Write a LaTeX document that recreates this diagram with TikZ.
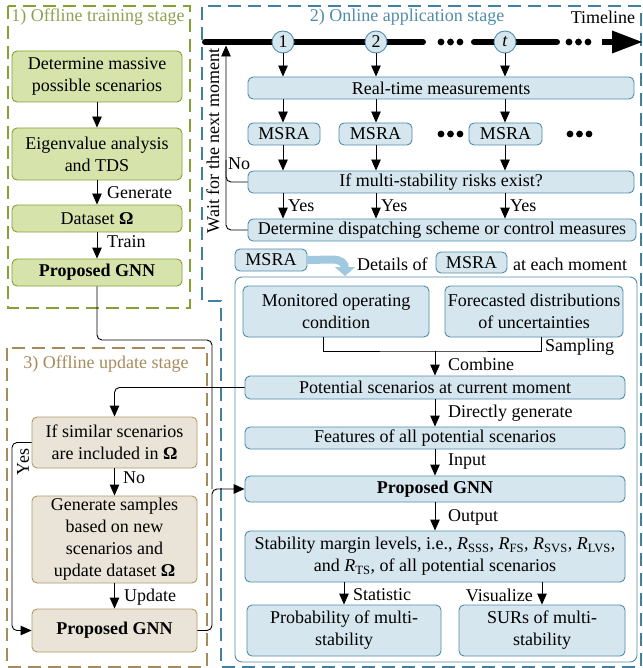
\documentclass[tikz,border=0pt]{standalone}
\usepackage{fontspec}
\setmainfont{Liberation Serif}
\usetikzlibrary{arrows.meta}
\definecolor{gline}{RGB}{134,160,52}
\definecolor{gfill}{RGB}{214,227,170}
\definecolor{gtext}{RGB}{140,162,80}
\definecolor{bline}{RGB}{64,128,160}
\definecolor{bfill}{RGB}{214,230,238}
\definecolor{bedge}{RGB}{80,140,170}
\definecolor{btext}{RGB}{80,140,170}
\definecolor{nline}{RGB}{166,138,92}
\definecolor{nedge}{RGB}{180,152,104}
\definecolor{nfill}{RGB}{234,228,216}
\definecolor{ltblue}{RGB}{160,200,222}
\newcommand{\myfs}{\fontsize{18}{22}\selectfont}
\newcommand{\bx}[7]{\node[#1, minimum width={#5-#3}, minimum height={#6-#4}] (#2) at ({(#3+#5)/2},{(#4+#6)/2}) {#7};}
\tikzset{
  base/.style={rounded corners=5pt, line width=0.9pt, align=center, inner sep=0pt, font=\myfs},
  gbox/.style={base, draw=gline, fill=gfill},
  bbox/.style={base, draw=bedge, fill=bfill},
  nbox/.style={base, draw=nedge, fill=nfill},
  inbox/.style={base, draw=bedge, fill=white, rounded corners=7pt},
  arr/.style={-{Triangle[length=11pt,width=9.5pt]}, line width=0.9pt},
  conn/.style={line width=0.9pt},
  lbl/.style={font=\myfs, inner sep=0pt, anchor=west},
  lblr/.style={font=\myfs, inner sep=0pt, anchor=east},
  lblc/.style={font=\myfs, inner sep=0pt},
  stage/.style={line width=2.3pt, dash pattern=on 13pt off 7pt},
  tcirc/.style={circle, draw=bedge, fill=bfill, minimum size=22pt, inner sep=0pt, line width=0.9pt, font=\myfs},
  tline/.style={line width=6pt, line cap=round}
}
\begin{document}
\begin{tikzpicture}[x=1pt,y=-1pt]
\useasboundingbox (0,0) rectangle (642,668);

% stage frames
\draw[stage, gline] (8,6) rectangle (190,308);
\draw[stage, bline] (641,6) -- (202,6) -- (202,301) -- (221,301) -- (221,667) -- (641,667) -- cycle;
\draw[stage, nline] (7,348) rectangle (207,667);

\node[lblc, text=gtext] (t1) at (98,17) {1) Offline training stage};
\node[lblc, text=btext] (t2) at (407,17) {2) Online application stage};
\node[lblc, text=nline] (t3) at (106,364) {3) Offline update stage};
\node[lblc] (tll) at (603,17) {Timeline};

% ---------- offline training
\bx{gbox}{g1}{12}{51}{182}{102}{Determine massive\\possible scenarios}
\bx{gbox}{g2}{12}{128}{182}{180}{Eigenvalue analysis\\and TDS}
\bx{gbox}{g3}{12}{205}{182}{232}{Dataset \textbf{Ω}}
\bx{gbox}{g4}{12}{259}{182}{286}{\textbf{Proposed GNN}}
\draw[arr] (g1) -- (g2);
\draw[arr] (g2) -- (g3);
\draw[arr] (g3) -- (g4);
\node[lbl] (lgen) at (107,193) {Generate};
\node[lbl] (ltrain) at (107,242) {Train};

% ---------- timeline
\draw[tline] (205,42) -- (423,42);
\draw[tline] (474,42) -- (557,42);
\draw[line width=6pt] (602,42) -- (614,42);
\fill (612,30.5) -- (642,42) -- (612,53.5) -- cycle;
\foreach \d in {441,450.5,460,569,578.5,588} \fill (\d,42) circle (3.4pt);
\node[tcirc] (c1) at (283,42) {1};
\node[tcirc] (c2) at (376,42) {2};
\node[tcirc] (c3) at (505,42) {\textit{t}};

\bx{bbox}{rt}{248}{77}{634}{99}{Real-time measurements}
\bx{bbox}{m1}{248}{123}{320}{145}{MSRA}
\bx{bbox}{m2}{339}{123}{412}{145}{MSRA}
\bx{bbox}{m3}{469}{123}{542}{145}{MSRA}
\foreach \d in {441,450.5,460,570,579.5,589} \fill (\d,134) circle (3.4pt);
\bx{bbox}{ifb}{248}{171}{634}{193}{If multi-stability risks exist?}
\bx{bbox}{det}{248}{219}{636}{241}{Determine dispatching scheme or control measures}

\foreach \c/\k in {c1/1,c2/2,c3/3}{
  \draw[arr] (\c) -- (\c |- rt.north);
  \draw[arr] (\c |- rt.south) -- (\c |- m1.north);
  \draw[arr] (\c |- m1.south) -- (\c |- ifb.north);
  \draw[arr] (\c |- ifb.south) -- (\c |- det.north);
  \node[lbl] (yes\k) at ([xshift=5pt]\c |- 0,206) {Yes};
}
\coordinate (tl) at (226,45.5);
\draw[arr, rounded corners=5pt] (det.west) -| (tl);
\draw[conn, rounded corners=5pt] (ifb.west) -| (226,160);
\node[lblc] (lno) at (239,164) {No};
\node[lblc, rotate=90] (wait) at (213,141) {Wait for the next moment};

% ---------- MSRA details
\bx{bbox}{ms0}{235}{249}{307}{271}{MSRA}
\draw[ltblue, line width=8pt, -{Triangle[length=9pt,width=20pt]}] (ms0.east) -- (332,259.5) .. controls (341,259.5) and (345,263) .. (345,269) -- (345,276);
\node[lbl] (dt) at (357,264) {Details of};
\bx{bbox}{ms1}{436}{252}{507}{273}{MSRA}
\node[lbl] (em) at (513,264) {at each moment};

\bx{inbox}{big}{235}{277}{637}{662}{}
\bx{bbox}{mon}{243}{286}{429}{337}{Monitored operating\\condition}
\bx{bbox}{fc}{445}{286}{623}{337}{Forecasted distributions\\of uncertainties}
\bx{bbox}{pot}{245}{376}{625}{399}{Potential scenarios at current moment}
\bx{bbox}{feat}{245}{427}{625}{449}{Features of all potential scenarios}
\bx{bbox}{bgnn}{245}{476}{625}{502}{\textbf{Proposed GNN}}
\bx{bbox}{stab}{245}{531}{625}{582}{Stability margin levels, i.e., \textit{R}\textsubscript{SSS}, \textit{R}\textsubscript{FS}, \textit{R}\textsubscript{SVS}, \textit{R}\textsubscript{LVS},\\and \textit{R}\textsubscript{TS}, of all potential scenarios}
\bx{bbox}{prob}{247}{605}{441}{656}{Probability of multi-\\stability}
\bx{bbox}{sur}{459}{605}{625}{656}{SURs of multi-\\stability}

\coordinate (cmb) at (435,351);
\draw[conn] ([xshift=-13pt]mon.south) |- (cmb) -| ([xshift=7pt]fc.south);
\node[lbl] (lsamp) at (545,347) {Sampling};
\draw[arr] (cmb) -- (cmb |- pot.north);
\node[lbl] (lcomb) at (448,364) {Combine};
\draw[arr] (cmb |- pot.south) -- (cmb |- feat.north);
\node[lbl] (ldir) at (448,413) {Directly generate};
\draw[arr] (cmb |- feat.south) -- (cmb |- bgnn.north);
\node[lbl] (linp) at (448,462) {Input};
\draw[arr] (cmb |- bgnn.south) -- (cmb |- stab.north);
\node[lbl] (lout) at (448,517) {Output};
\coordinate (sx) at (344,0);
\coordinate (vx) at (542,0);
\draw[arr] (sx |- stab.south) -- (sx |- prob.north);
\node[lbl] (lstat) at (353,595) {Statistic};
\draw[arr] (vx |- stab.south) -- (vx |- sur.north);
\node[lblr] (lvis) at (533,595) {Visualize};

% ---------- offline update
\bx{nbox}{ifs}{32}{417}{197}{468}{If similar scenarios\\are included in \textbf{Ω}}
\bx{nbox}{gen}{32}{496}{197}{583}{Generate samples\\based on new\\scenarios and\\update dataset \textbf{Ω}}
\bx{nbox}{ng}{32}{609}{197}{652}{\textbf{Proposed GNN}}
\draw[arr, rounded corners=5pt] (pot.west) -| (ifs.north);
\draw[arr] (ifs) -- (gen);
\node[lbl] (lno2) at (123,478) {No};
\draw[arr] (gen) -- (ng);
\node[lbl] (lupd) at (124,597) {Update};
\draw[arr, rounded corners=5pt] (ifs.west) -| (12,540) |- (ng.west);
\node[lblc, rotate=90] (lyes) at (23,462) {Yes};

% ---------- GNN connections
\coordinate (jn) at (212,489);
\draw[conn, rounded corners=5pt] (g4.south) |- (212,340) -- (jn);
\draw[arr, rounded corners=5pt] (ng.east) -| (jn) -- (bgnn.west);
\end{tikzpicture}
\end{document}
